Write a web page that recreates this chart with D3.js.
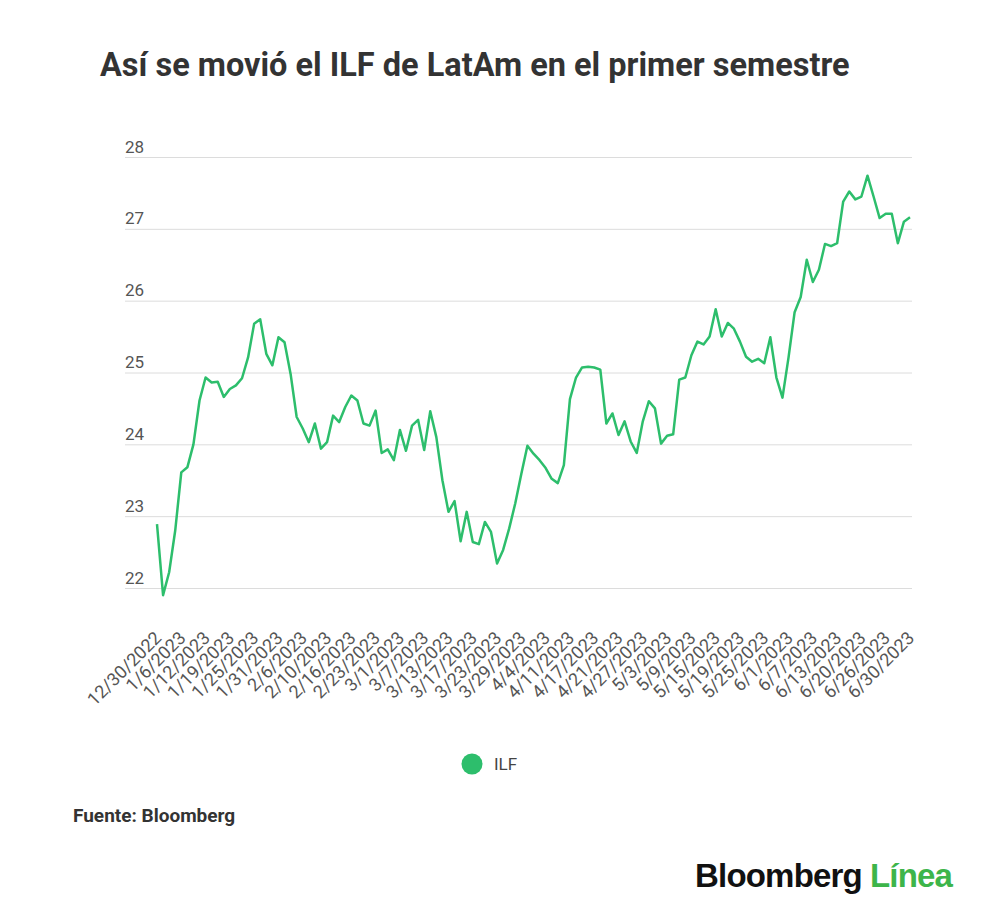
<!DOCTYPE html>
<html>
<head>
<meta charset="utf-8">
<script src="https://cdn.jsdelivr.net/npm/d3@7"></script>
<style>
  body { margin: 0; background: #fff; }
  #root { width: 1000px; height: 920px; }
</style>
</head>
<body>
<div id="root"></div>
<script>
// Data: ILF closes, 12/30/2022 - 6/30/2023 (trading days)
const dates = [
  "12/30/2022",
  "1/3/2023","1/4/2023","1/5/2023","1/6/2023","1/9/2023","1/10/2023","1/11/2023","1/12/2023","1/13/2023",
  "1/17/2023","1/18/2023","1/19/2023","1/20/2023","1/23/2023","1/24/2023","1/25/2023","1/26/2023","1/27/2023",
  "1/30/2023","1/31/2023",
  "2/1/2023","2/2/2023","2/3/2023","2/6/2023","2/7/2023","2/8/2023","2/9/2023","2/10/2023","2/13/2023",
  "2/14/2023","2/15/2023","2/16/2023","2/17/2023","2/21/2023","2/22/2023","2/23/2023","2/24/2023","2/27/2023",
  "2/28/2023",
  "3/1/2023","3/2/2023","3/3/2023","3/6/2023","3/7/2023","3/8/2023","3/9/2023","3/10/2023","3/13/2023",
  "3/14/2023","3/15/2023","3/16/2023","3/17/2023","3/20/2023","3/21/2023","3/22/2023","3/23/2023","3/24/2023",
  "3/27/2023","3/28/2023","3/29/2023","3/30/2023","3/31/2023",
  "4/3/2023","4/4/2023","4/5/2023","4/6/2023","4/10/2023","4/11/2023","4/12/2023","4/13/2023","4/14/2023",
  "4/17/2023","4/18/2023","4/19/2023","4/20/2023","4/21/2023","4/24/2023","4/25/2023","4/26/2023","4/27/2023",
  "4/28/2023",
  "5/1/2023","5/2/2023","5/3/2023","5/4/2023","5/5/2023","5/8/2023","5/9/2023","5/10/2023","5/11/2023",
  "5/12/2023","5/15/2023","5/16/2023","5/17/2023","5/18/2023","5/19/2023","5/22/2023","5/23/2023","5/24/2023",
  "5/25/2023","5/26/2023","5/30/2023","5/31/2023",
  "6/1/2023","6/2/2023","6/5/2023","6/6/2023","6/7/2023","6/8/2023","6/9/2023","6/12/2023","6/13/2023",
  "6/14/2023","6/15/2023","6/16/2023","6/20/2023","6/21/2023","6/22/2023","6/23/2023","6/26/2023","6/27/2023",
  "6/28/2023","6/29/2023","6/30/2023"
];

const ilf = [
  22.89,
  21.90,22.22,22.80,23.61,23.68,24.00,24.61,24.93,24.86,
  24.87,24.66,24.77,24.82,24.92,25.21,25.68,25.74,25.26,
  25.10,25.49,
  25.42,24.98,24.38,24.22,24.03,24.29,23.94,24.03,24.40,
  24.31,24.52,24.68,24.61,24.29,24.26,24.47,23.88,23.93,
  23.78,
  24.20,23.91,24.26,24.34,23.92,24.46,24.10,23.50,23.06,
  23.21,22.65,23.06,22.64,22.61,22.92,22.78,22.34,22.53,
  22.83,23.18,23.59,23.98,23.87,
  23.78,23.67,23.52,23.46,23.71,24.63,24.93,25.07,25.08,
  25.07,25.04,24.29,24.43,24.13,24.32,24.04,23.88,24.32,
  24.60,
  24.50,24.01,24.12,24.14,24.90,24.93,25.24,25.43,25.39,
  25.50,25.88,25.50,25.69,25.61,25.43,25.22,25.15,25.19,
  25.13,25.49,24.93,24.65,
  25.21,25.84,26.05,26.57,26.26,26.43,26.79,26.76,26.80,
  27.38,27.52,27.41,27.45,27.74,27.45,27.15,27.21,27.21,
  26.80,27.10,27.16
];

const tickLabels = [
  "12/30/2022","1/6/2023","1/12/2023","1/19/2023","1/25/2023","1/31/2023","2/6/2023","2/10/2023",
  "2/16/2023","2/23/2023","3/1/2023","3/7/2023","3/13/2023","3/17/2023","3/23/2023","3/29/2023",
  "4/4/2023","4/11/2023","4/17/2023","4/21/2023","4/27/2023","5/3/2023","5/9/2023","5/15/2023",
  "5/19/2023","5/25/2023","6/1/2023","6/7/2023","6/13/2023","6/20/2023","6/26/2023","6/30/2023"
];

const yTicks = [22, 23, 24, 25, 26, 27, 28];

const seriesName = "ILF";
const lineColor = "#2dbe6c";

// Margin convention
const margin = { top: 157, right: 90, bottom: 332, left: 157 },
  width = 1000 - margin.left - margin.right,
  height = 920 - margin.top - margin.bottom;

const root = d3.select("#root").append("svg")
  .attr("width", 1000)
  .attr("height", 920)
  .style("font-family", "Roboto, sans-serif");

// Title
root.append("text")
  .attr("x", 100)
  .attr("y", 76)
  .attr("fill", "#333")
  .style("font-size", "32.5px")
  .style("font-weight", "bold")
  .text("Así se movió el ILF de LatAm en el primer semestre");

const svg = root.append("g")
  .attr("transform", "translate(" + margin.left + "," + margin.top + ")");

// Scales
const x = d3.scalePoint()
  .domain(dates)
  .range([0, width]);

const y = d3.scaleLinear()
  .domain([22, 28])
  .range([height, 0]);

// Gridlines + y labels
const yAxis = svg.append("g")
  .attr("transform", "translate(" + (width + 2) + ",0)")
  .call(d3.axisLeft(y).tickValues(yTicks).tickFormat(d3.format("d")).tickSize(-(width + 34)).tickPadding(0));
yAxis.select(".domain").remove();
yAxis.selectAll(".tick line")
  .attr("x1", 0)
  .attr("x2", -(width + 34))
  .attr("stroke", "#dcdcdc");
yAxis.selectAll(".tick text")
  .attr("x", -(width + 34))
  .attr("dy", -5)
  .attr("text-anchor", "start")
  .attr("fill", "#555")
  .style("font-size", "17px")
  .style("font-family", "Roboto, sans-serif");

// X labels
const xAxis = svg.append("g")
  .attr("transform", "translate(0," + height + ")")
  .call(d3.axisBottom(x).tickValues(tickLabels).tickSize(0));
xAxis.select(".domain").remove();
xAxis.selectAll(".tick text")
  .attr("transform", "translate(5,51)rotate(-45)")
  .attr("y", 0)
  .attr("dy", 0)
  .attr("text-anchor", "end")
  .attr("fill", "#555")
  .style("font-size", "18px")
  .style("font-family", "Roboto, sans-serif");

// Line
const line = d3.line()
  .x(function(d, i) { return x(dates[i]); })
  .y(function(d) { return y(d); });

svg.append("path")
  .datum(ilf)
  .attr("fill", "none")
  .attr("stroke", lineColor)
  .attr("stroke-width", 2.5)
  .attr("stroke-linejoin", "round")
  .attr("d", line);

// Legend
root.append("circle")
  .attr("cx", 472)
  .attr("cy", 764)
  .attr("r", 10.5)
  .attr("fill", lineColor);
root.append("text")
  .attr("x", 494)
  .attr("y", 770)
  .attr("fill", "#444")
  .style("font-size", "17px")
  .text(seriesName);

// Source
root.append("text")
  .attr("x", 73)
  .attr("y", 822)
  .attr("fill", "#333")
  .style("font-size", "19px")
  .style("font-weight", "bold")
  .text("Fuente: Bloomberg");

// Logo
const logo = root.append("text")
  .attr("x", 695)
  .attr("y", 887)
  .style("font-family", "'Liberation Sans', Arial, sans-serif")
  .style("font-size", "33px")
  .style("font-weight", "bold")
  .style("letter-spacing", "-0.8px");
logo.append("tspan").attr("fill", "#111").text("Bloomberg");
logo.append("tspan").attr("fill", "#3db54a").attr("dx", 8).text("Línea");
</script>
</body>
</html>
